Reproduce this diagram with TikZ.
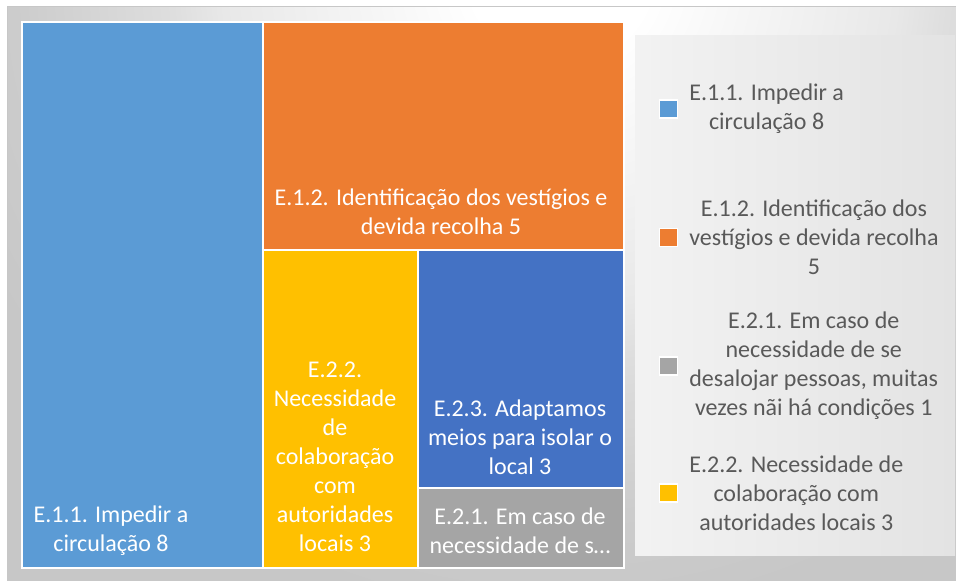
\documentclass[tikz,border=0pt]{standalone}
\usepackage{fontspec}
\setmainfont{Carlito}
\usetikzlibrary{positioning}

\definecolor{blueEoneone}{HTML}{5B9BD5}
\definecolor{orangeEonetwo}{HTML}{ED7D31}
\definecolor{grayEtwoone}{HTML}{A5A5A5}
\definecolor{yellowEtwotwo}{HTML}{FFC000}
\definecolor{blueEtwothree}{HTML}{4472C4}
\definecolor{legendgray}{HTML}{595959}

\pgfdeclareradialshading{chartglow}{\pgfpointorigin}{color(0bp)=(white); color(3.5bp)=(white); color(13bp)=(black!9); color(15bp)=(black!13); color(21bp)=(black!20); color(25bp)=(black!22); color(50bp)=(black!22)}

\tikzset{every picture/.style={line width=0.75pt},
  cell/.style={draw=white, line width=1.5},
  cell text/.style={text=white, align=center, inner sep=0pt, font=\fontsize{18}{21.75}\selectfont},
  legend key/.style={draw=white, line width=1, minimum size=13.5pt, inner sep=0pt},
  legend text/.style={text=legendgray, align=center, inner sep=0pt, font=\fontsize{18}{21.75}\selectfont}}

\begin{document}
\begin{tikzpicture}[x=0.75pt,y=0.75pt,yscale=-1,xscale=1]
\useasboundingbox (0,0) rectangle (956,581);

% Chart area
\begin{scope}
\clip (7,7) rectangle (956,581);
\fill[black!22] (7,7) rectangle (956,581);
\shade[shading=chartglow] (560,-30) circle [radius=650];
\end{scope}
\draw[black!22] (7,581) -- (7,7) -- (956,7);

% Legend panel
\shade[left color=black!5, right color=black!11] (635,36) rectangle (955,555);

% Cells
\draw[cell, fill=blueEoneone] (22,22.5) rectangle (262.5,567.5);
\draw[cell, fill=orangeEonetwo] (262.5,22.5) rectangle (623.5,249.7);
\draw[cell, fill=yellowEtwotwo] (262.5,249.7) rectangle (417.7,567.5);
\draw[cell, fill=blueEtwothree] (417.7,249.7) rectangle (623.5,488);
\draw[cell, fill=grayEtwoone] (417.7,488) rectangle (623.5,567.5);

% Text Node
\node (lblEoneone) at (111,531) [cell text] {E.1.1. Impedir a\\circulação 8};
% Text Node
\node (lblEonetwo) at (441,212) [cell text] {E.1.2. Identificação dos vestígios e\\devida recolha 5};
% Text Node
\node (lblEtwotwo) at (335,457) [cell text] {E.2.2.\\Necessidade\\de\\colaboração\\com\\autoridades\\locais 3};
% Text Node
\node (lblEtwothree) at (520,437) [cell text] {E.2.3. Adaptamos\\meios para isolar o\\local 3};
% Text Node
\node (lblEtwoone) at (520,531) [cell text] {E.2.1. Em caso de\\necessidade de s…};

% Legend
\node (keyEoneone) at (668.5,109) [legend key, fill=blueEoneone] {};
\node (txtEoneone) [legend text, right=8pt of keyEoneone] {E.1.1. Impedir a\\circulação 8};
\node (keyEonetwo) at (668.5,237.5) [legend key, fill=orangeEonetwo] {};
\node (txtEonetwo) [legend text, right=8pt of keyEonetwo] {E.1.2. Identificação dos\\vestígios e devida recolha\\5};
\node (keyEtwoone) at (668.5,366) [legend key, fill=grayEtwoone] {};
\node (txtEtwoone) [legend text, right=8pt of keyEtwoone] {E.2.1. Em caso de\\necessidade de se\\desalojar pessoas, muitas\\vezes nãi há condições 1};
\node (keyEtwotwo) at (668.5,493) [legend key, fill=yellowEtwotwo] {};
\node (txtEtwotwo) [legend text, right=8pt of keyEtwotwo] {E.2.2. Necessidade de\\colaboração com\\autoridades locais 3};

\end{tikzpicture}
\end{document}
